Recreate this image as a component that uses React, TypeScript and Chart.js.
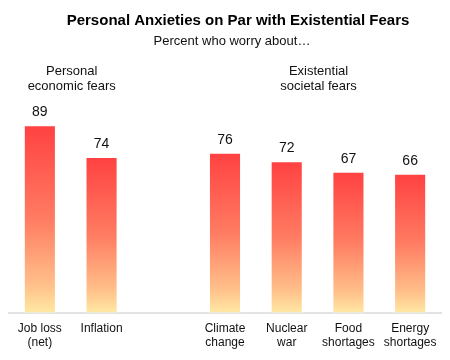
import React, { useEffect, useRef } from "react";
import { Chart, registerables } from "chart.js";

Chart.register(...registerables);

const categories: (string | string[])[] = [
  ["Job loss", "(net)"],
  "Inflation",
  "",
  ["Climate", "change"],
  ["Nuclear", "war"],
  ["Food", "shortages"],
  ["Energy", "shortages"],
];
const values: (number | null)[] = [89, 74, null, 76, 72, 67, 66];
const groupLabels: string[][] = [
  ["Personal", "economic fears"],
  ["Existential", "societal fears"],
];
const groupIndices: number[][] = [
  [0, 1],
  [3, 4, 5, 6],
];
const titleText = "Personal Anxieties on Par with Existential Fears";
const subtitleText = "Percent who worry about\u2026";

const FONT = "'Liberation Sans', Arial, sans-serif";

const textPlugin = {
  id: "textPlugin",
  afterDatasetsDraw(chart: any) {
    const ctx = chart.ctx;
    const xs = chart.scales.x;
    ctx.save();
    ctx.textAlign = "center";
    ctx.textBaseline = "alphabetic";
    ctx.fillStyle = "#000";
    ctx.font = `bold 15px ${FONT}`;
    ctx.fillText(titleText, chart.width / 2 + 13, 25);
    ctx.fillStyle = "#111";
    ctx.font = `13px ${FONT}`;
    ctx.fillText(subtitleText, chart.width / 2 + 7, 45);

    groupLabels.forEach((lines, g) => {
      const idx = groupIndices[g];
      const cx =
        (xs.getPixelForValue(idx[0]) + xs.getPixelForValue(idx[idx.length - 1])) / 2;
      lines.forEach((line, i) => {
        ctx.fillText(line, cx + 1, 75 + i * 15);
      });
    });

    ctx.font = `14px ${FONT}`;
    const meta = chart.getDatasetMeta(0);
    meta.data.forEach((bar: any, i: number) => {
      const v = values[i];
      if (v == null) return;
      ctx.fillText(String(v), bar.x, bar.y - 9);
    });
    ctx.restore();
  },
};

function makeGradient(context: any) {
  const chart = context.chart;
  const raw = context.raw;
  const ys = chart.scales && chart.scales.y;
  if (!chart.chartArea || !ys || raw == null) return "#ff6050";
  const top = ys.getPixelForValue(raw);
  const base = ys.getPixelForValue(0);
  const g = chart.ctx.createLinearGradient(0, top, 0, base);
  g.addColorStop(0, "#ff4141");
  g.addColorStop(0.5, "#ff7c62");
  g.addColorStop(0.85, "#ffc08a");
  g.addColorStop(1, "#ffe9a4");
  return g;
}

export default function App() {
  const ref = useRef<HTMLCanvasElement>(null);
  useEffect(() => {
    if (!ref.current) return;
    const chart = new Chart(ref.current, {
      type: "bar",
      data: {
        labels: categories,
        datasets: [
          {
            data: values,
            backgroundColor: makeGradient,
            borderColor: "rgba(255,255,255,0.35)",
            borderWidth: 1,
            borderSkipped: false,
            barPercentage: 0.52,
            categoryPercentage: 1,
          },
        ],
      },
      options: {
        animation: false,
        responsive: false,
        maintainAspectRatio: false,
        layout: { padding: { left: 9, right: 9, top: 102, bottom: 2 } },
        plugins: {
          legend: { display: false },
          title: { display: false },
          tooltip: { enabled: false },
        },
        scales: {
          y: { display: false, min: 0, max: 100 },
          x: {
            grid: { display: false, drawTicks: false },
            border: { display: true, color: "#e3e3e3", width: 2 },
            ticks: {
              color: "#111",
              font: { family: FONT, size: 12 },
              padding: 8,
              maxRotation: 0,
              autoSkip: false,
            },
          },
        },
      },
      plugins: [textPlugin],
    });
    return () => chart.destroy();
  }, []);
  return (
    <div style={{ position: "fixed", left: 0, top: 0, width: 450, height: 360, background: "#fff" }}>
      <canvas ref={ref} width={450} height={360} style={{ width: 450, height: 360 }} />
    </div>
  );
}
